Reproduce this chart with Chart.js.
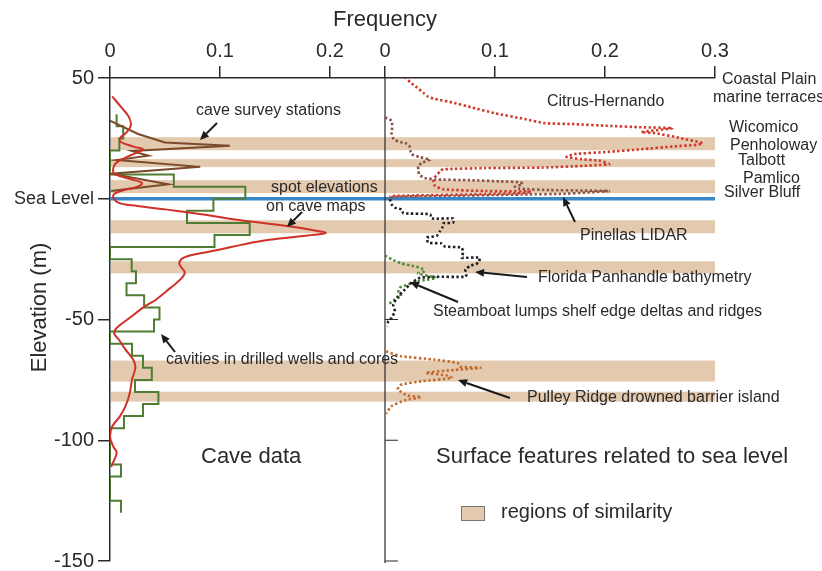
<!DOCTYPE html>
<html>
<head>
<meta charset="utf-8">
<title>Cave data vs surface features</title>
<script src="https://cdn.jsdelivr.net/npm/chart.js@4.4.0/dist/chart.umd.min.js"></script>
<style>
  html, body { margin: 0; padding: 0; background: #fff; }
  #wrap { width: 822px; height: 571px; }
</style>
</head>
<body>
<div id="wrap"><canvas id="chart" width="822" height="571"></canvas></div>
<script>
// ---- axes ----
const Y_TICKS = [50, 0, -50, -100, -150];
const Y_TICK_LABELS = ['50', 'Sea Level', '-50', '-100', '-150'];
// both frequency panels share one x axis, the right one is shifted
const PANEL_OFFSET = 0.25;
const LEFT_TICKS = [0, 0.1, 0.2];
const RIGHT_TICKS = [0, 0.1, 0.2, 0.3];
const TICK_LABELS = ['0', '0.1', '0.2', '0', '0.1', '0.2', '0.3'];
const DIVIDER_TICKS = [-50, -100, -150];

// regions of similarity (elevation, m)
const BAND_TOP = [25.5, 16.4, 7.7, -8.9, -25.9, -67.0, -79.9];
const BAND_BOTTOM = [20.1, 13.1, 2.3, -14.3, -30.9, -75.7, -84.0];
const SEA_LEVEL = 0;

// ---- cave data (left panel) ----
const spotElev = [42.4, 38, 34, 30.5, 27.5, 25, 23.5, 21.5, 20.5, 19, 17, 14.5, 11, 9.5, 8, 6.5, 5, 3.5, 1.5,
  -1.5, -3, -4.5, -6.5, -8.5, -11.3, -13, -14.2, -15.2, -17, -19, -21, -22.6, -24.4, -26.5, -28.5, -30.6,
  -33.4, -36.9, -41.7, -45.1, -49.3, -52, -54.1, -56, -58.3, -62.4, -66.6, -69.4, -72, -74.9, -80.4, -86,
  -90.1, -94.3, -98.4, -102.6, -105, -108, -111];
const spotFreq = [0.002, 0.01, 0.017, 0.019, 0.015, 0.009, 0.01, 0.022, 0.03, 0.024, 0.014, 0.005, 0.003, 0.008,
  0.02, 0.029, 0.025, 0.012, 0.003, 0.007, 0.025, 0.052, 0.085, 0.112, 0.161, 0.185, 0.196, 0.18, 0.145, 0.12,
  0.1, 0.082, 0.067, 0.063, 0.065, 0.068, 0.064, 0.055, 0.042, 0.03, 0.018, 0.01, 0.005, 0.004, 0.008, 0.014,
  0.021, 0.023, 0.022, 0.02, 0.018, 0.014, 0.009, 0.002, 0, 0.003, 0.006, 0.004, 0.001];

const surveyElev = [32.3, 26.8, 23.3, 21.9, 19.8, 17.8, 16.0, 13.2, 10.4, 6.0, 3.2];
const surveyFreq = [0.0, 0.0255, 0.05, 0.109, 0.02, 0.035, 0.006, 0.082, 0.001, 0.053, 0.001];

// cavities in wells and cores: 5 m bins, listed by bin top
const wellBinTop = [35, 30, 25, 20, 15, 10, 5, 0, -5, -10, -15, -20, -25, -30, -35, -40, -45, -50, -55,
  -60, -65, -70, -75, -80, -85, -90, -95, -100, -105, -110, -115, -120, -125];
const wellFreq = [0.006, 0.012, 0.0085, 0, 0, 0.058, 0.123, 0.094, 0.07, 0.127, 0.095, 0, 0.0197, 0.0236,
  0.015, 0.031, 0.045, 0.04, 0, 0.02, 0.03, 0.038, 0.0227, 0.044, 0.03, 0.0127, 0, 0, 0, 0.01, 0, 0, 0.01];
const WELL_BIN = 5;

// ---- surface features (right panel) ----
const citrusElev = [50.5, 48.2, 46.1, 43.8, 42.3, 41.4, 39.9, 37.8, 35.4, 33.0, 31.3, 30.9, 30.2, 29.6, 29.2,
  27.6, 27.2, 25.2, 23.3, 22.9, 22.3, 21.7, 20.5, 19.4, 18.5, 17.3, 16.4, 15.7, 14.3, 14.0, 13.6, 12.9,
  12.7, 12.2, 11.5, 10.2, 8.8, 7.4, 5.3, 3.9, 3.2, 3.0, 2.4, 1.9, 1.2, 0.8];
const citrusFreq = [0.018, 0.023, 0.029, 0.035, 0.039, 0.045, 0.061, 0.079, 0.1, 0.127, 0.145, 0.172, 0.2025,
  0.233, 0.2615, 0.233, 0.245, 0.268, 0.287, 0.2888, 0.283, 0.2635, 0.233, 0.2025, 0.172, 0.165, 0.178,
  0.196, 0.204, 0.196, 0.18, 0.143, 0.091, 0.053, 0.05, 0.048, 0.045, 0.044, 0.0455, 0.053, 0.091, 0.133,
  0.128, 0.091, 0.009, 0.004];

const pinellasElev = [33.7, 32.3, 29.5, 26.8, 24.5, 23.5, 23.0, 22.0, 20.0, 18.5, 17.3, 16.2, 15.0, 13.5,
  12.0, 10.0, 8.6, 8.0, 7.7, 7.2, 6.8, 6.0, 5.0, 4.2, 3.6, 3.4, 3.2, 2.6, 2.0, 1.8, 1.3, 0.8, 0.0];
const pinellasFreq = [0.0, 0.006, 0.0065, 0.006, 0.008, 0.014, 0.019, 0.022, 0.023, 0.024, 0.031, 0.041,
  0.034, 0.03, 0.0305, 0.031, 0.036, 0.045, 0.077, 0.105, 0.123, 0.125, 0.118, 0.122, 0.15, 0.18, 0.2036,
  0.185, 0.16, 0.13, 0.07, 0.0085, 0.002];

const panhandleElev = [-0.2, -2.3, -3.7, -4.4, -6.0, -6.4, -8.2, -8.2, -9.9, -10.2, -12.0, -13.4, -15.4,
  -16.1, -18.2, -18.5, -19.8, -20.2, -22.3, -24.4, -24.4, -26.5, -27.9, -29.3, -31.3, -32.3, -32.3, -32.7,
  -34.8, -37.6, -40.3, -43.8, -46.6, -49.3, -50.7, -52.8];
const panhandleFreq = [0.0045, 0.006, 0.009, 0.015, 0.0167, 0.041, 0.0425, 0.062, 0.062, 0.053, 0.052, 0.05,
  0.047, 0.038, 0.0394, 0.0515, 0.0545, 0.0697, 0.071, 0.0697, 0.086, 0.085, 0.077, 0.073, 0.074, 0.073,
  0.045, 0.032, 0.024, 0.018, 0.012, 0.0075, 0.009, 0.006, 0.003, 0.002];

const steamboatElev = [-23.5, -25.1, -26.8, -27.9, -28.8, -30.0, -31.0, -32.7, -33.5, -34.1, -35.5, -36.8,
  -38.9, -40.3, -41.7, -43.8];
const steamboatFreq = [0.0, 0.006, 0.015, 0.026, 0.033, 0.036, 0.03, 0.047, 0.038, 0.03, 0.021, 0.0136,
  0.012, 0.015, 0.009, 0.003];

const pulleyElev = [-63.2, -65.2, -66.6, -68.0, -69.6, -70.0, -71.0, -72.1, -73.2, -74.2, -75.6, -77.0,
  -79.0, -81.5, -82.1, -83.5, -86.0, -89.0];
const pulleyFreq = [0.001, 0.0145, 0.045, 0.066, 0.069, 0.087, 0.06, 0.037, 0.057, 0.061, 0.033, 0.0145,
  0.0115, 0.0206, 0.033, 0.0176, 0.0055, 0.001];

// ---- styling ----
const FONT = "'Liberation Sans', Arial, Helvetica, sans-serif";
const INK = '#2a2a2a';
const BAND_COLOR = '#e3c9ad';
const SEA_COLOR = '#3a87c8';

function toPoints(elev, freq, offset) {
  return elev.map((e, i) => ({ x: freq[i] + offset, y: e }));
}

// outline of a histogram drawn sideways
function histogramPoints(tops, freq, bin) {
  const pts = [];
  tops.forEach((top, i) => {
    pts.push({ x: freq[i], y: top });
    pts.push({ x: freq[i], y: top - bin });
  });
  return pts;
}

function solid(data, color, tension) {
  return { data, showLine: true, borderColor: color, borderWidth: 2, tension, pointRadius: 0, fill: false };
}

function dotted(data, color) {
  return { data, showLine: true, borderColor: color, borderWidth: 2.6, borderDash: [2.4, 2.4],
    borderCapStyle: 'butt', tension: 0.15, pointRadius: 0, fill: false };
}

const datasets = [
  solid(toPoints(spotElev, spotFreq, 0), '#cf3127', 0.4),
  solid(toPoints(surveyElev, surveyFreq, 0), '#7b4a2b', 0),
  solid(histogramPoints(wellBinTop, wellFreq, WELL_BIN), '#4f7d33', 0),
  dotted(toPoints(citrusElev, citrusFreq, PANEL_OFFSET), '#d03a2c'),
  dotted(toPoints(pinellasElev, pinellasFreq, PANEL_OFFSET), '#8a5248'),
  dotted(toPoints(panhandleElev, panhandleFreq, PANEL_OFFSET), '#1e1e1e'),
  dotted(toPoints(steamboatElev, steamboatFreq, PANEL_OFFSET), '#4f8a38'),
  dotted(toPoints(pulleyElev, pulleyFreq, PANEL_OFFSET), '#c46a2c')
];

// labels, arrows: canvas pixel positions
const LABELS = [
  { text: 'Frequency', x: 385, y: 20, size: 22, align: 'center' },
  { text: 'cave survey stations', x: 196, y: 111, size: 16 },
  { text: 'spot elevations', x: 271, y: 188, size: 16 },
  { text: 'on cave maps', x: 266, y: 207, size: 16 },
  { text: 'cavities in drilled wells and cores', x: 166, y: 360, size: 16 },
  { text: 'Citrus-Hernando', x: 547, y: 102, size: 16 },
  { text: 'Pinellas LIDAR', x: 580, y: 236, size: 16 },
  { text: 'Florida Panhandle bathymetry', x: 538, y: 278, size: 16 },
  { text: 'Steamboat lumps shelf edge deltas and ridges', x: 433, y: 312, size: 16 },
  { text: 'Pulley Ridge drowned barrier island', x: 527, y: 398, size: 16 },
  { text: 'Cave data', x: 201, y: 457, size: 22 },
  { text: 'Surface features related to sea level', x: 436, y: 457, size: 22 },
  { text: 'regions of similarity', x: 501, y: 512, size: 20 },
  { text: 'Coastal Plain', x: 722, y: 80, size: 16 },
  { text: 'marine terraces', x: 713, y: 98, size: 16 },
  { text: 'Wicomico', x: 729, y: 128, size: 16 },
  { text: 'Penholoway', x: 730, y: 146, size: 16 },
  { text: 'Talbott', x: 738, y: 161, size: 16 },
  { text: 'Pamlico', x: 743, y: 179, size: 16 },
  { text: 'Silver Bluff', x: 724, y: 193, size: 16 }
];
const ARROWS = [
  [217, 123, 200, 140],
  [302, 212, 287, 227],
  [175, 352, 161, 334],
  [575, 222, 563, 197],
  [527, 277, 475, 272],
  [458, 302, 410, 282],
  [510, 398, 458, 380]
];
const LEGEND_BOX = { x: 461, y: 506, w: 23, h: 14 };

const backdrop = {
  id: 'backdrop',
  beforeDatasetsDraw(chart) {
    const { ctx, scales: { x, y }, chartArea } = chart;
    const x0 = x.getPixelForValue(0);
    const x1 = x.getPixelForValue(PANEL_OFFSET + 0.3);
    ctx.save();
    ctx.fillStyle = BAND_COLOR;
    BAND_TOP.forEach((top, i) => {
      const yt = y.getPixelForValue(top);
      const yb = y.getPixelForValue(BAND_BOTTOM[i]);
      ctx.fillRect(x0 + 1, yt, x1 - x0 - 1, yb - yt);
    });
    // sea level
    const ys = y.getPixelForValue(SEA_LEVEL);
    ctx.strokeStyle = SEA_COLOR;
    ctx.lineWidth = 3.5;
    ctx.beginPath();
    ctx.moveTo(x0, ys);
    ctx.lineTo(x1, ys);
    ctx.stroke();
    // divider between the two panels
    const xd = x.getPixelForValue(PANEL_OFFSET);
    ctx.strokeStyle = INK;
    ctx.lineWidth = 1.2;
    ctx.beginPath();
    ctx.moveTo(xd, chartArea.top);
    ctx.lineTo(xd, chartArea.bottom + 2);
    DIVIDER_TICKS.forEach(v => {
      const yy = y.getPixelForValue(v);
      ctx.moveTo(xd, yy);
      ctx.lineTo(xd + 13, yy);
    });
    ctx.stroke();
    ctx.restore();
  },
  afterDraw(chart) {
    const { ctx, chartArea } = chart;
    ctx.save();
    ctx.fillStyle = INK;
    ctx.textBaseline = 'middle';
    LABELS.forEach(l => {
      ctx.font = l.size + 'px ' + FONT;
      ctx.textAlign = l.align || 'left';
      ctx.fillText(l.text, l.x, l.y);
    });
    // y axis title
    ctx.translate(40, (chartArea.top + chartArea.bottom) / 2 - 12);
    ctx.rotate(-Math.PI / 2);
    ctx.font = '22px ' + FONT;
    ctx.textAlign = 'center';
    ctx.fillText('Elevation (m)', 0, 0);
    ctx.setTransform(1, 0, 0, 1, 0, 0);
    // arrows
    ctx.strokeStyle = '#1a1a1a';
    ctx.fillStyle = '#1a1a1a';
    ctx.lineWidth = 2;
    ARROWS.forEach(([sx, sy, ex, ey]) => {
      const ang = Math.atan2(ey - sy, ex - sx);
      const hl = 9, hw = 4;
      const bx = ex - hl * Math.cos(ang), by = ey - hl * Math.sin(ang);
      ctx.beginPath();
      ctx.moveTo(sx, sy);
      ctx.lineTo(bx, by);
      ctx.stroke();
      ctx.beginPath();
      ctx.moveTo(ex, ey);
      ctx.lineTo(bx + hw * Math.sin(ang), by - hw * Math.cos(ang));
      ctx.lineTo(bx - hw * Math.sin(ang), by + hw * Math.cos(ang));
      ctx.closePath();
      ctx.fill();
    });
    // legend swatch
    ctx.fillStyle = BAND_COLOR;
    ctx.strokeStyle = '#777';
    ctx.lineWidth = 1;
    ctx.fillRect(LEGEND_BOX.x, LEGEND_BOX.y, LEGEND_BOX.w, LEGEND_BOX.h);
    ctx.strokeRect(LEGEND_BOX.x + 0.5, LEGEND_BOX.y + 0.5, LEGEND_BOX.w, LEGEND_BOX.h);
    ctx.restore();
  }
};

const xTickValues = LEFT_TICKS.concat(RIGHT_TICKS.map(v => v + PANEL_OFFSET));

new Chart(document.getElementById('chart').getContext('2d'), {
  type: 'scatter',
  data: { datasets },
  options: {
    responsive: false,
    animation: false,
    devicePixelRatio: 1,
    layout: { padding: { left: 0, right: 107, top: 0, bottom: 10 } },
    plugins: { legend: { display: false }, tooltip: { enabled: false } },
    scales: {
      x: {
        type: 'linear',
        position: 'top',
        min: 0,
        max: PANEL_OFFSET + 0.3,
        afterBuildTicks: (scale) => { scale.ticks = xTickValues.map(v => ({ value: v })); },
        afterFit: (scale) => { scale.height = 78; scale.paddingLeft = 0; scale.paddingRight = 0; },
        ticks: {
          autoSkip: false,
          maxRotation: 0,
          padding: 3,
          color: INK,
          font: { family: FONT, size: 20 },
          callback: (v, i) => TICK_LABELS[i]
        },
        grid: { drawOnChartArea: false, tickLength: 12, color: INK, lineWidth: 1.5 },
        border: { color: INK, width: 1.5 }
      },
      y: {
        type: 'linear',
        min: -150,
        max: 50,
        afterBuildTicks: (scale) => { scale.ticks = Y_TICKS.map(v => ({ value: v })); },
        afterFit: (scale) => { scale.width = 110; scale.paddingTop = 0; scale.paddingBottom = 0; },
        ticks: {
          padding: 4,
          color: INK,
          font: (c) => ({ family: FONT, size: c.tick && c.tick.value === 0 ? 18 : 20 }),
          callback: (v, i) => Y_TICK_LABELS[i]
        },
        grid: { drawOnChartArea: false, tickLength: 12, color: INK, lineWidth: 1.5 },
        border: { color: INK, width: 1.5 }
      }
    }
  },
  plugins: [backdrop]
});
</script>
</body>
</html>
